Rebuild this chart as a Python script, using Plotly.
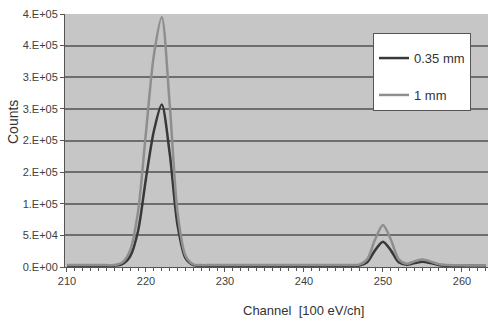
import plotly.graph_objects as go

channels = list(range(210, 264))

counts_035mm = [
    2000, 2000, 2000, 2000, 2000, 2000, 2100, 4500, 17000, 57000,   # 210-219
    140000, 215000, 257000, 180000, 66000, 14000, 3000, 2000, 2000, 2000,  # 220-229
    2000, 2000, 2000, 2000, 2000, 2000, 2000, 2000, 2000, 2000,  # 230-239
    2000, 2000, 2000, 2000, 2000, 2000, 2000, 2400, 7400, 26300,  # 240-249
    40000, 26300, 7400, 3600, 6200, 8400, 6200, 3200, 2100, 2000,  # 250-259
    2000, 2000, 2000, 2000,  # 260-263
]

counts_1mm = [
    3000, 3000, 3000, 3000, 3000, 3000, 3100, 7000, 26500, 88000,   # 210-219
    213000, 335000, 395000, 258000, 86000, 18000, 4000, 3000, 3000, 3000,  # 220-229
    3000, 3000, 3000, 3000, 3000, 3000, 3000, 3000, 3000, 3000,  # 230-239
    3000, 3000, 3000, 3000, 3000, 3000, 3000, 3700, 12000, 43400,  # 240-249
    66500, 43400, 12000, 5200, 8900, 12000, 8900, 4700, 3200, 2800,  # 250-259
    2600, 2500, 2500, 2500,  # 260-263
]

y_tickvals = [0, 50000, 100000, 150000, 200000, 250000, 300000, 350000, 400000]
y_ticktext = ["0.E+00", "5.E+04", "1.E+05", "2.E+05", "2.E+05", "3.E+05", "3.E+05", "4.E+05", "4.E+05"]
x_tickvals = [210, 220, 230, 240, 250, 260]

font_family = "Liberation Sans, Arial, sans-serif"

W, H = 490, 321
plot_l, plot_r, plot_t, plot_b = 65, 488, 14, 267  # pixel positions of the plot area

fig = go.Figure()
fig.add_trace(go.Scatter(
    x=channels, y=counts_035mm, mode="lines", name="0.35 mm",
    line=dict(color="#383838", width=2.5, shape="spline", smoothing=0.8),
    legendgroup="a",
))
fig.add_trace(go.Scatter(
    x=channels, y=counts_1mm, mode="lines", name="1 mm",
    line=dict(color="#8e8e8e", width=2.5, shape="spline", smoothing=0.8),
    legendgroup="b",
))


def px_to_paper(px, py):
    return (px - plot_l) / (plot_r - plot_l), (plot_b - py) / (plot_b - plot_t)


cx, cy = px_to_paper(13, 122)
tx, ty = px_to_paper(303, 311)
lx, ly = px_to_paper(373, 33)

fig.update_layout(
    width=W, height=H,
    margin=dict(l=plot_l, r=W - plot_r, t=plot_t, b=H - plot_b, autoexpand=False),
    paper_bgcolor="white",
    plot_bgcolor="#c6c6c6",
    font=dict(family=font_family, size=11, color="#404040"),
    showlegend=True,
    legend=dict(
        x=lx, y=ly, xanchor="left", yanchor="top",
        bgcolor="white", bordercolor="#555555", borderwidth=1,
        font=dict(size=13, color="#333333"),
        title=dict(text="&nbsp;", font=dict(size=7)),
        tracegroupgap=17, itemwidth=30,
    ),
    xaxis=dict(
        range=[209.75, 263.3],
        tickvals=x_tickvals,
        ticks="outside", ticklen=4, tickcolor="#555555",
        showline=True, linecolor="#555555", linewidth=1,
        showgrid=False, zeroline=False,
        minor=dict(dtick=1, tick0=210, ticks="outside", ticklen=3, tickcolor="#555555", showgrid=False),
        fixedrange=True,
    ),
    yaxis=dict(
        range=[0, 400000],
        tickvals=y_tickvals, ticktext=y_ticktext,
        ticks="outside", ticklen=4, tickcolor="#555555",
        showline=True, linecolor="#555555", linewidth=1,
        showgrid=True, gridcolor="#6e6e6e", gridwidth=1.5,
        zeroline=False, ticklabeloverflow="allow",
        fixedrange=True,
    ),
    annotations=[
        dict(text="Counts", x=cx, y=cy, xref="paper", yref="paper",
             xanchor="center", yanchor="middle",
             showarrow=False, textangle=-90, font=dict(size=14, color="#333333")),
        dict(text="Channel  [100 eV/ch]", x=tx, y=ty, xref="paper", yref="paper",
             xanchor="center", yanchor="middle",
             showarrow=False, font=dict(size=13, color="#333333")),
    ],
)

fig.write_html("out.html", config={"displayModeBar": False},
               post_script="document.body.style.margin='0';")
